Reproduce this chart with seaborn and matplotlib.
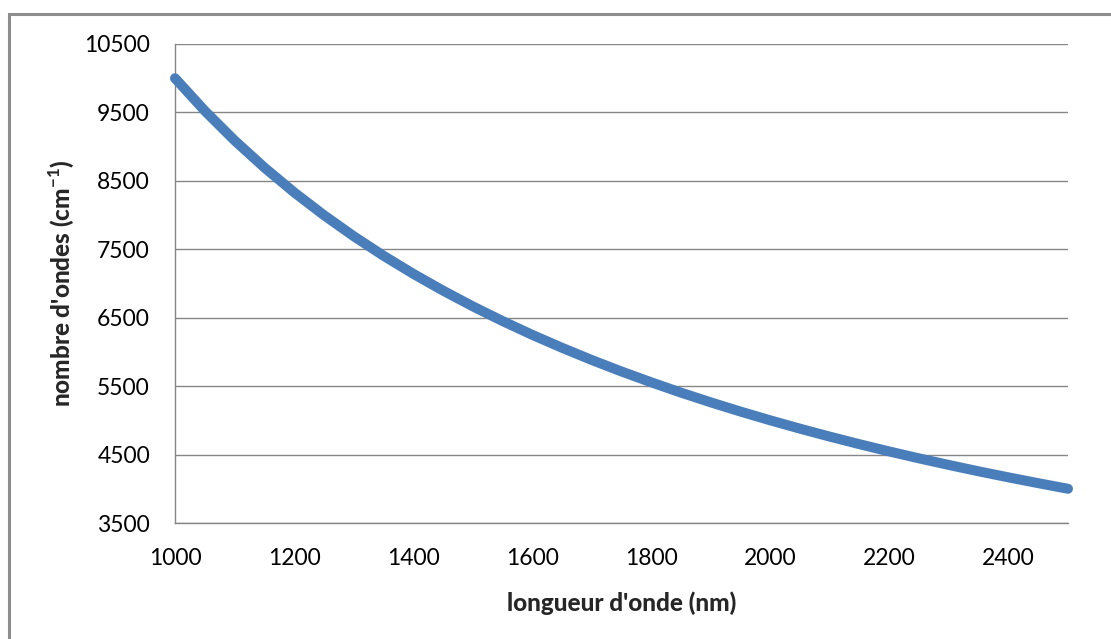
import numpy as np
import pandas as pd
import matplotlib
matplotlib.use("Agg")
import matplotlib.pyplot as plt
import seaborn as sns
from matplotlib.patches import Rectangle

# values (wavelength in nm, wavenumber in cm-1)
longueur = [1000, 1050, 1100, 1150, 1200, 1250, 1300, 1350, 1400, 1450, 1500,
            1550, 1600, 1650, 1700, 1750, 1800, 1850, 1900, 1950, 2000,
            2050, 2100, 2150, 2200, 2250, 2300, 2350, 2400, 2450, 2500]
nombre = [10000, 9524, 9091, 8696, 8333, 8000, 7692, 7407, 7143, 6897, 6667,
          6452, 6250, 6061, 5882, 5714, 5556, 5405, 5263, 5128, 5000,
          4878, 4762, 4651, 4545, 4444, 4348, 4255, 4167, 4082, 4000]
xticks = [1000, 1200, 1400, 1600, 1800, 2000, 2200, 2400]
yticks = [3500, 4500, 5500, 6500, 7500, 8500, 9500, 10500]

sns.set_theme(style="whitegrid")
plt.rcParams["font.family"] = ["Lato", "DejaVu Sans"]
plt.rcParams["mathtext.fontset"] = "custom"
plt.rcParams["mathtext.bf"] = "Lato:bold"
plt.rcParams["mathtext.rm"] = "Lato"

df = pd.DataFrame({"longueur": longueur, "nombre": nombre})

fig = plt.figure(figsize=(11.11, 6.39), dpi=100)
fig.patch.set_facecolor("white")
ax = fig.add_axes([175 / 1111, 1 - 523 / 639, 893 / 1111, 479 / 639])

sns.lineplot(data=df, x="longueur", y="nombre", ax=ax, color="#4a7ebb",
             linewidth=7.2, solid_capstyle="round", solid_joinstyle="round",
             clip_on=False, zorder=5)

ax.set_xlim(1000, 2500)
ax.set_ylim(3500, 10500)
ax.set_xticks(xticks)
ax.set_yticks(yticks)
ax.grid(axis="x", visible=False)
ax.grid(axis="y", color="#868686", linewidth=1)
ax.set_facecolor("white")
for s in ["top", "right"]:
    ax.spines[s].set_visible(False)
for s in ["left", "bottom"]:
    ax.spines[s].set_color("#868686")
    ax.spines[s].set_linewidth(1)
ax.tick_params(axis="both", length=0, pad=18, labelsize=16.5, colors="black")

ax.set_xlabel("longueur d'onde (nm)", fontsize=17.5, fontweight="black", labelpad=16)
ax.set_ylabel(r"nombre d'ondes (cm$^{\mathbf{-1}}$)", fontsize=17.5,
              fontweight="black", labelpad=6)

# outer chart frame (right and bottom run off the image)
fig.patches.append(Rectangle((9 / 1111, -0.1), 1.2, 1 - 14 / 639 + 0.1,
                             transform=fig.transFigure, fill=False,
                             edgecolor="#8c8c8c", linewidth=2.2))

fig.savefig("out.png", dpi=100)
